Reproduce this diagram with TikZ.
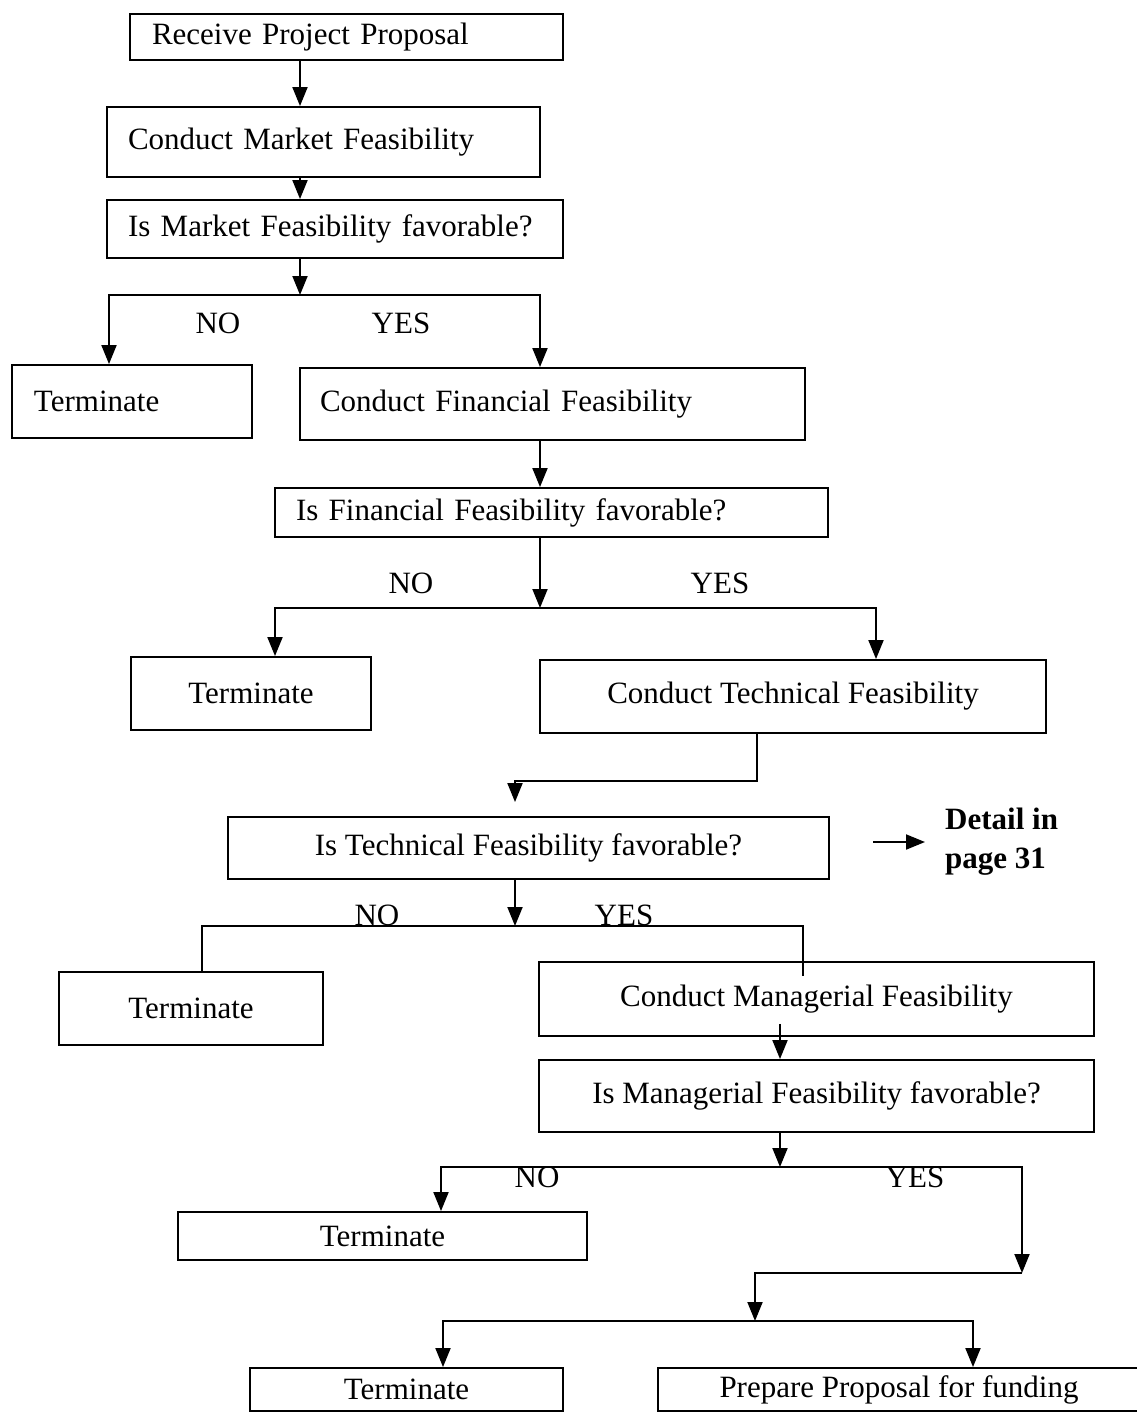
\documentclass[tikz,border=0pt]{standalone}
\usepackage{fontspec}
\setmainfont{Liberation Serif}
\usetikzlibrary{arrows.meta,calc}
\begin{document}
\begin{tikzpicture}[x=1pt,y=-1pt,
  every node/.style={font=\fontsize{31}{39}\selectfont},
  box/.style={draw, line width=1.9pt, inner ysep=0pt, inner xsep=0pt, align=center},
  lbox/.style={box, align=left},
  arr/.style={line width=1.9pt, -{Triangle[length=19pt,width=15pt]}},
  plain/.style={line width=1.9pt},
  lab/.style={inner sep=0pt}]
\useasboundingbox (0,0) rectangle (1137,1414);
\clip (0,0) rectangle (1137,1414);
\fill[white] (0,0) rectangle (1137,1414);

% boxes
\node[lbox, minimum width=433pt, minimum height=46pt, inner xsep=22pt, text width=389pt] (recv) at (346.5,37) {Receive Project Proposal};
\node[lbox, minimum width=433pt, minimum height=70pt, inner xsep=21pt, text width=391pt] (mkt) at (323.5,142) {Conduct Market Feasibility};
\node[lbox, minimum width=456pt, minimum height=58pt, inner xsep=21pt, text width=414pt] (qmkt) at (335,229) {Is Market Feasibility favorable?};
\node[lbox, minimum width=240pt, minimum height=73pt, inner xsep=22pt, text width=196pt] (term1) at (132,401.5) {Terminate};
\node[lbox, minimum width=505pt, minimum height=72pt, inner xsep=20pt, text width=465pt] (fin) at (552.5,404) {Conduct Financial Feasibility};
\node[lbox, minimum width=553pt, minimum height=49pt, inner xsep=21pt, text width=511pt] (qfin) at (551.5,512.5) {Is Financial Feasibility favorable?};
\node[box, minimum width=240pt, minimum height=73pt] (term2) at (251,693.5) {Terminate};
\node[box, minimum width=506pt, minimum height=73pt] (tech) at (793,696.5) {Conduct Technical Feasibility};
\node[box, minimum width=601pt, minimum height=62pt] (qtech) at (528.5,848) {Is Technical Feasibility favorable?};
\node[box, minimum width=264pt, minimum height=73pt] (term3) at (191,1008.5) {Terminate};
\node[box, minimum width=555pt, minimum height=74pt] (mgr) at (816.5,999) {Conduct Managerial Feasibility};
\node[box, minimum width=555pt, minimum height=72pt] (qmgr) at (816.5,1096) {Is Managerial Feasibility favorable?};
\node[box, minimum width=409pt, minimum height=48pt] (term4) at (382.5,1236) {Terminate};
\node[box, minimum width=313pt, minimum height=43pt] (term5) at (406.5,1389.5) {Terminate};
\node[box, minimum width=482pt, minimum height=43pt] (prep) at (899,1389.5) {Prepare Proposal for funding};

% detail note
\node[lab, anchor=west, align=left, font=\fontsize{31}{39}\selectfont\bfseries] (detail) at (945,842) {Detail in\\page 31};
\coordinate (dstart) at (873,842);

% branch points
\coordinate (b1) at (300,295);
\coordinate (b2) at (540,608);
\coordinate (b3) at (515,926);
\coordinate (b4) at (780,1167);
\coordinate (c4) at (1022,1273);
\coordinate (b5) at (755,1321);

% connectors
\draw[arr] (recv.south -| 300,0) -- (mkt.north -| 300,0);
\draw[arr] (mkt.south -| 300,0) -- (qmkt.north -| 300,0);
\draw[arr] (qmkt.south -| b1) -- (b1);
\draw[arr] (b1) -| (term1.north -| 109,0);
\draw[arr] (b1) -| (fin.north -| 540,0);

\draw[arr] (fin.south -| 540,0) -- (qfin.north -| 540,0);
\draw[arr] (qfin.south -| b2) -- (b2);
\draw[arr] (b2) -| (term2.north -| 275,0);
\draw[arr] (b2) -| (tech.north -| 876,0);

\draw[arr, shorten >=14pt] (tech.south -| 757,0) |- (515,781) -- (qtech.north -| 515,0);
\draw[arr] (dstart) -- ([xshift=-20pt]detail.west);

\draw[arr] (qtech.south -| b3) -- (b3);
\draw[plain] (b3) -| (term3.north -| 202,0);
\draw[plain] (b3) -| (mgr.north -| 803,0) -- ++(0,15);

\draw[arr] ($(mgr.south -| 780,0)+(0,-13)$) -- (qmgr.north -| 780,0);
\draw[arr] (qmgr.south -| b4) -- (b4);
\draw[arr] (b4) -| (term4.north -| 441,0);
\draw[arr] (b4) -| (c4);
\draw[arr] (c4) -| (b5);
\draw[arr] (b5) -| (term5.north -| 443,0);
\draw[arr] (b5) -| (prep.north -| 973,0);

% labels
\node[lab] (no1) at (218,323) {NO};
\node[lab] (yes1) at (401,323) {YES};
\node[lab] (no2) at (411,583) {NO};
\node[lab] (yes2) at (720,583) {YES};
\node[lab] (no3) at (377,915) {NO};
\node[lab] (yes3) at (624,915) {YES};
\node[lab] (no4) at (537,1177) {NO};
\node[lab] (yes4) at (915,1177) {YES};
\end{tikzpicture}
\end{document}
